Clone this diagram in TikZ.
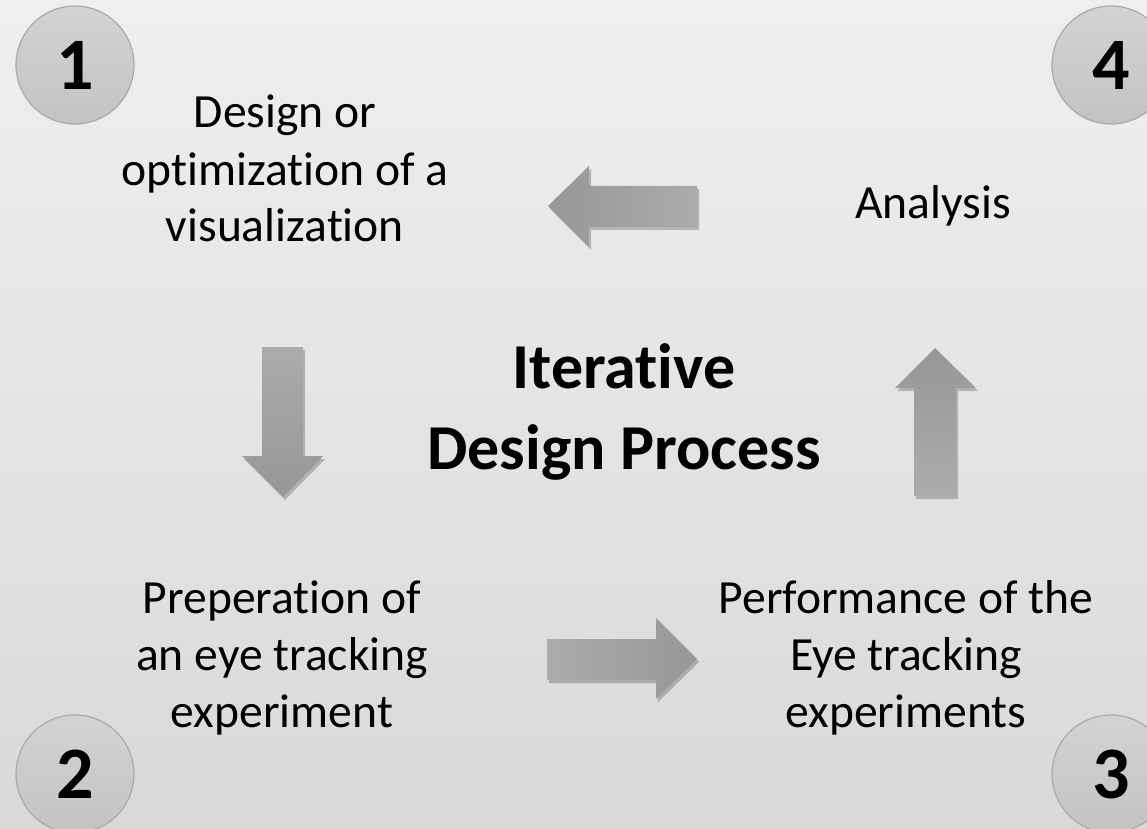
\documentclass[tikz,border=0pt]{standalone}
\usepackage{fontspec}
\setmainfont{Carlito}[Ligatures=CommonOff]
\usetikzlibrary{shadows}

\definecolor{bgtop}{HTML}{EFEFEF}
\definecolor{bgbottom}{HTML}{D9D9D9}
\definecolor{ringline}{HTML}{A9A9A9}
\definecolor{ringtop}{HTML}{D3D3D3}
\definecolor{ringbottom}{HTML}{C3C3C3}
\definecolor{arrowdark}{HTML}{979797}
\definecolor{arrowlight}{HTML}{ABABAB}

\tikzset{
  stepnum/.style={circle, draw=ringline, line width=0.6pt, top color=ringtop,
    bottom color=ringbottom, minimum size=59pt, inner sep=0pt,
    font=\fontsize{37}{40}\selectfont\bfseries},
  steptext/.style={text width=230pt, align=flush center, anchor=base, inner sep=0pt,
    font=\fontsize{23.8}{28.5}\selectfont},
  titletext/.style={text width=260pt, align=flush center, anchor=base, inner sep=0pt,
    font=\fontsize{32}{40.5}\selectfont\bfseries},
  blockarrow/.style={drop shadow={shadow xshift=1pt, shadow yshift=-1.5pt,
    opacity=0.22, fill=black}}
}

\begin{document}
\begin{tikzpicture}[x=0.5pt,y=-0.5pt]
\useasboundingbox (0,0) rectangle (1147,829);
\clip (0,0) rectangle (1147,829);
\shade[top color=bgtop, bottom color=bgbottom] (0,0) rectangle (1147,829);
% numbered circles
\node[stepnum] (n1) at (75,65) {1};
\node[stepnum] (n2) at (75,774) {2};
\node[stepnum] (n3) at (1111,774) {3};
\node[stepnum] (n4) at (1111,65) {4};
% step texts
\node[steptext] (design) at (285,128) {Design or\\optimization of a\\visualization};
\node[steptext] (prep) at (282,613) {Preperation of\\an eye tracking\\experiment};
\node[steptext] (perf) at (906,613) {Performance of the\\Eye tracking\\experiments};
\node[steptext] (analysis) at (933,219) {Analysis};
\node[titletext] (title) at (624,388) {Iterative\\Design Process};
% block arrows
\path[blockarrow, left color=arrowdark, right color=arrowlight]
  (697,186) -- (589,186) -- (589,166) -- (548,206) -- (589,247) -- (589,227) -- (697,227) -- cycle;
\path[blockarrow, top color=arrowlight, bottom color=arrowdark]
  (262,347) -- (303,347) -- (303,456) -- (323,456) -- (283,497) -- (242,456) -- (262,456) -- cycle;
\path[blockarrow, left color=arrowlight, right color=arrowdark]
  (547,639) -- (656,639) -- (656,618) -- (697,659) -- (656,699) -- (656,680) -- (547,680) -- cycle;
\path[blockarrow, top color=arrowdark, bottom color=arrowlight]
  (914,496) -- (914,388) -- (895,388) -- (935,348) -- (976,388) -- (956,388) -- (956,496) -- cycle;
\end{tikzpicture}
\end{document}
